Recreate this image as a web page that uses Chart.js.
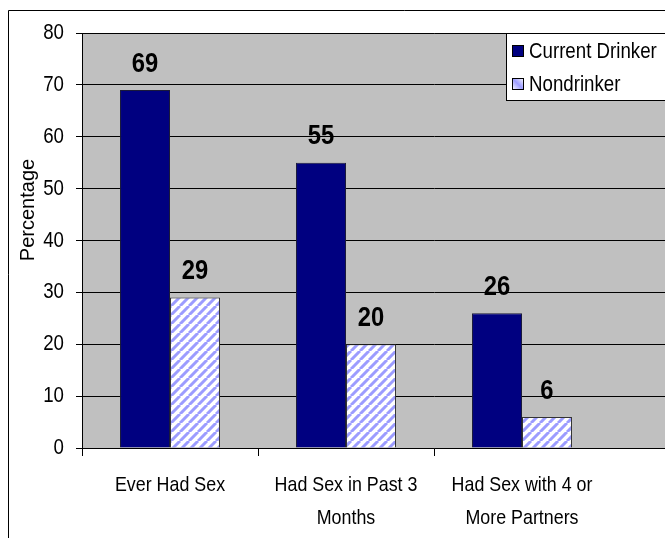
<!DOCTYPE html>
<html>
<head>
<meta charset="utf-8">
<script src="https://cdn.jsdelivr.net/npm/chart.js@4.4.1/dist/chart.umd.min.js"></script>
<style>
    html, body { margin: 0; padding: 0; background: #fff; overflow: hidden; }
    #wrap { position: relative; width: 665px; height: 538px; overflow: hidden; }
    #chart { position: absolute; left: 0; top: 0; }
</style>
</head>
<body>
<div id="wrap"><canvas id="chart" width="800" height="538"></canvas></div>
<script>
// --- 1. DATA ---
// last category is an empty slot: the plot area of the original runs on past the third group
const categories = ['Ever Had Sex', ['Had Sex in Past 3', 'Months'], ['Had Sex with 4 or', 'More Partners'], ''];
const currentDrinker = [69, 55, 26, null];
const nondrinker = [29, 20, 6, null];
const seriesNames = ['Current Drinker', 'Nondrinker'];
const yTicks = [0, 10, 20, 30, 40, 50, 60, 70, 80];
const yTitle = 'Percentage';

const FONT = "'Liberation Sans', Arial, sans-serif";
const NAVY = '#000080';
const HATCH_BLUE = '#9c9cff';
const NARROW = 0.85; // the original uses a condensed face, squeeze text a bit

// --- 2. HATCH PATTERN ---
const ctx = document.getElementById('chart').getContext('2d');

function makeHatch() {
    const n = 9;
    const c = document.createElement('canvas');
    c.width = n; c.height = n;
    const g = c.getContext('2d');
    g.fillStyle = '#fff';
    g.fillRect(0, 0, n, n);
    g.strokeStyle = HATCH_BLUE;
    g.lineWidth = 3;
    g.beginPath();
    [-n, 0, n].forEach(o => { g.moveTo(o, n); g.lineTo(o + n, 0); });
    g.stroke();
    return ctx.createPattern(c, 'repeat');
}
const hatch = makeHatch();

function narrowText(c, text, x, y) {
    c.save();
    c.translate(x, y);
    c.scale(NARROW, 1);
    c.fillText(text, 0, 0);
    c.restore();
}

// --- 3. PLUGINS ---
const frame = {
    id: 'frame',
    beforeDraw(chart) {
        const c = chart.ctx, a = chart.chartArea;
        c.save();
        // outer slide frame
        c.strokeStyle = '#000';
        c.lineWidth = 1;
        c.beginPath();
        c.moveTo(8.5, chart.height); c.lineTo(8.5, 10.5); c.lineTo(chart.width, 10.5);
        c.stroke();
        // grey plot background
        c.fillStyle = '#c0c0c0';
        c.fillRect(a.left, a.top, a.right - a.left, a.bottom - a.top);
        c.strokeStyle = '#808080';
        c.beginPath();
        c.moveTo(a.left, a.top + 0.5); c.lineTo(a.right, a.top + 0.5);
        c.stroke();
        c.restore();
    },
    afterDatasetsDraw(chart) {
        const c = chart.ctx;
        c.save();
        c.font = "bold 28px " + FONT;
        c.fillStyle = '#000';
        c.textAlign = 'center';
        c.textBaseline = 'bottom';
        chart.data.datasets.forEach((ds, i) => {
            chart.getDatasetMeta(i).data.forEach((bar, j) => {
                if (ds.data[j] == null) return;
                narrowText(c, String(ds.data[j]), bar.x, bar.y - 12);
            });
        });
        c.restore();
    },
    afterDraw(chart) {
        const c = chart.ctx;
        const xs = chart.scales.x, ys = chart.scales.y;

        // tick labels in the condensed look
        c.save();
        c.fillStyle = '#000';
        c.textBaseline = 'middle';
        c.font = "21px " + FONT;
        c.textAlign = 'center';
        categories.forEach((lab, i) => {
            const lines = Array.isArray(lab) ? lab : [lab];
            const x = xs.getPixelForTick(i);
            lines.forEach((ln, k) => narrowText(c, ln, x, xs.top + 37 + k * 33));
        });
        c.font = "22px " + FONT;
        c.textAlign = 'right';
        yTicks.forEach(v => narrowText(c, String(v), ys.right - 18, ys.getPixelForValue(v)));
        c.restore();

        // y axis title
        c.save();
        c.translate(28, 210);
        c.rotate(-Math.PI / 2);
        c.font = "20px " + FONT;
        c.fillStyle = '#000';
        c.textAlign = 'center';
        c.textBaseline = 'middle';
        c.fillText(yTitle, 0, 0);
        c.restore();

        // legend box
        c.save();
        c.fillStyle = '#fff';
        c.fillRect(506, 33, 300, 67);
        c.strokeStyle = '#000';
        c.lineWidth = 1;
        c.strokeRect(506.5, 33.5, 300, 67);
        const rows = [{ y: 51, fill: NAVY }, { y: 84, fill: null }];
        rows.forEach((r, i) => {
            if (r.fill) {
                c.fillStyle = r.fill;
            } else {
                const gr = c.createLinearGradient(512, r.y + 6, 524, r.y - 6);
                gr.addColorStop(0, '#ffffff');
                gr.addColorStop(0.5, HATCH_BLUE);
                gr.addColorStop(1, '#ffffff');
                c.fillStyle = gr;
            }
            c.fillRect(512, r.y - 6, 12, 12);
            c.strokeStyle = '#000';
            c.strokeRect(512.5, r.y - 5.5, 11, 11);
            c.fillStyle = '#000';
            c.font = "22px " + FONT;
            c.textAlign = 'left';
            c.textBaseline = 'middle';
            narrowText(c, seriesNames[i], 529, r.y + 1);
        });
        c.restore();
    }
};

// --- 4. CHART ---
new Chart(ctx, {
    type: 'bar',
    data: {
        labels: categories,
        datasets: [
            {
                label: seriesNames[0],
                data: currentDrinker,
                backgroundColor: NAVY,
                borderColor: '#1a1a3a',
                borderWidth: 1
            },
            {
                label: seriesNames[1],
                data: nondrinker,
                backgroundColor: hatch,
                borderColor: '#333333',
                borderWidth: 1
            }
        ]
    },
    options: {
        responsive: false,
        animation: false,
        layout: { padding: { top: 33, left: 0, right: 14, bottom: 0 } },
        datasets: { bar: { categoryPercentage: 0.568, barPercentage: 1 } },
        plugins: { legend: { display: false }, tooltip: { enabled: false } },
        scales: {
            x: {
                afterFit: s => { s.height = 90; },
                border: { color: '#000', width: 1 },
                grid: {
                    drawOnChartArea: false,
                    tickLength: 8,
                    color: c => (c.index === 3 ? 'rgba(0,0,0,0)' : '#000')
                },
                ticks: { display: false, autoSkip: false }
            },
            y: {
                min: 0,
                max: 80,
                afterFit: s => { s.width = 82; },
                afterBuildTicks: s => { s.ticks = yTicks.map(v => ({ value: v })); },
                border: { color: '#000', width: 1 },
                grid: { color: '#000', tickLength: 6 },
                ticks: { display: false }
            }
        }
    },
    plugins: [frame]
});
</script>
</body>
</html>
